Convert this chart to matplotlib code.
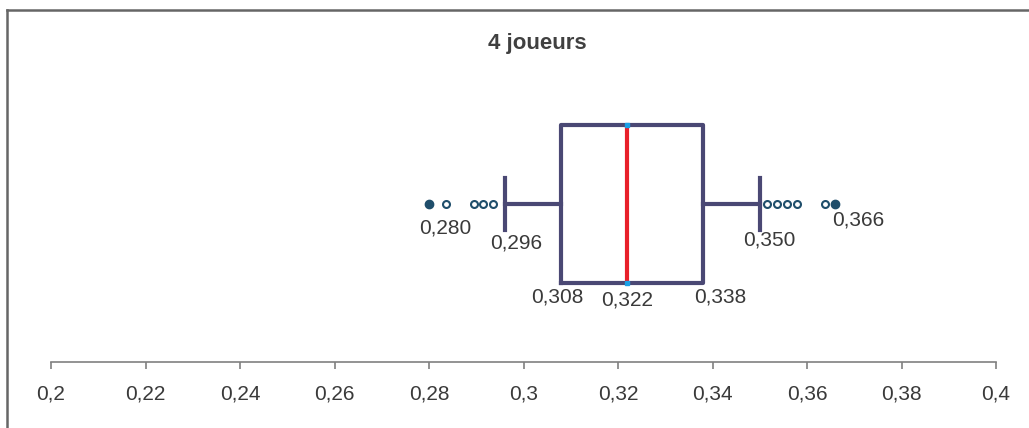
import matplotlib.pyplot as plt
from matplotlib.lines import Line2D

# statistiques de la boîte (4 joueurs)
q1, mediane, q3 = 0.308, 0.322, 0.338
moustache_basse, moustache_haute = 0.296, 0.350
extremes = [0.280, 0.366]
aberrants = [0.2836, 0.2895, 0.2914, 0.2935, 0.3515, 0.3537, 0.3558, 0.3579, 0.3638]
ticks = [0.2, 0.22, 0.24, 0.26, 0.28, 0.3, 0.32, 0.34, 0.36, 0.38, 0.4]
tick_labels = ['0,2', '0,22', '0,24', '0,26', '0,28', '0,3', '0,32', '0,34', '0,36', '0,38', '0,4']

W, H = 1029, 428
fig = plt.figure(figsize=(W / 100, H / 100), dpi=100)
plt.rcParams['font.family'] = ['Liberation Sans', 'DejaVu Sans']

# axe : y en pixels depuis la ligne de l'axe (pixel 362)
base = 362
ax = fig.add_axes([51 / W, (H - base) / H, 945 / W, 350 / H])
ax.set_xlim(0.2, 0.4)
ax.set_ylim(0, 350)
yc = base - 204

box_col = '#4a4874'
stats = [dict(med=mediane, q1=q1, q3=q3, whislo=moustache_basse, whishi=moustache_haute, fliers=[])]
ax.bxp(stats, positions=[yc], widths=158, capwidths=52, orientation='horizontal',
       showfliers=False, manage_ticks=False,
       boxprops=dict(color=box_col, linewidth=3),
       whiskerprops=dict(color=box_col, linewidth=3),
       capprops=dict(color=box_col, linewidth=3),
       medianprops=dict(color='#e8202a', linewidth=3))
ax.plot([mediane, mediane], [yc - 79, yc + 79], ls='none', marker='s', ms=3.5,
        color='#1aa0e6', zorder=5)

# valeurs aberrantes
ax.plot(aberrants, [yc] * len(aberrants), ls='none', marker='o', ms=5,
        mfc='white', mec='#1f4e6b', mew=1.5)
ax.plot(extremes, [yc] * len(extremes), ls='none', marker='o', ms=6,
        color='#1f4e6b')

# étiquettes
etiquettes = [
    (0.280, yc, 16, -24),
    (moustache_basse, yc, 12, -39),
    (q1, yc - 79, -4, -14),
    (mediane, yc - 79, 0, -17),
    (q3, yc - 79, 17, -14),
    (moustache_haute, yc, 10, -36),
    (0.366, yc, 23, -16),
]
for x, y, dx, dy in etiquettes:
    ax.annotate(('%.3f' % x).replace('.', ','), (x, y), xytext=(dx, dy),
                textcoords='offset pixels', ha='center', va='center',
                fontsize=15, color='#3a3a3a')

ax.set_xticks(ticks)
ax.set_xticklabels(tick_labels, fontsize=15, color='#3a3a3a')
ax.set_yticks([])
for s in ['top', 'left', 'right']:
    ax.spines[s].set_visible(False)
ax.spines['bottom'].set_color('#808080')
ax.spines['bottom'].set_linewidth(1.2)
ax.tick_params(axis='x', direction='out', length=5, width=1.2, color='#808080', pad=11)
ax.patch.set_alpha(0)

fig.text(537 / W, 1 - 43 / H, '4 joueurs', ha='center', va='center',
         fontsize=16, fontweight='bold', color='#404040')

# cadre (haut et gauche)
fig.add_artist(Line2D([7 / W, 1], [1 - 10 / H, 1 - 10 / H], color='#666666', lw=1.8))
fig.add_artist(Line2D([7 / W, 7 / W], [0, 1 - 10 / H], color='#666666', lw=1.8))

fig.savefig('out.png', dpi=100)
